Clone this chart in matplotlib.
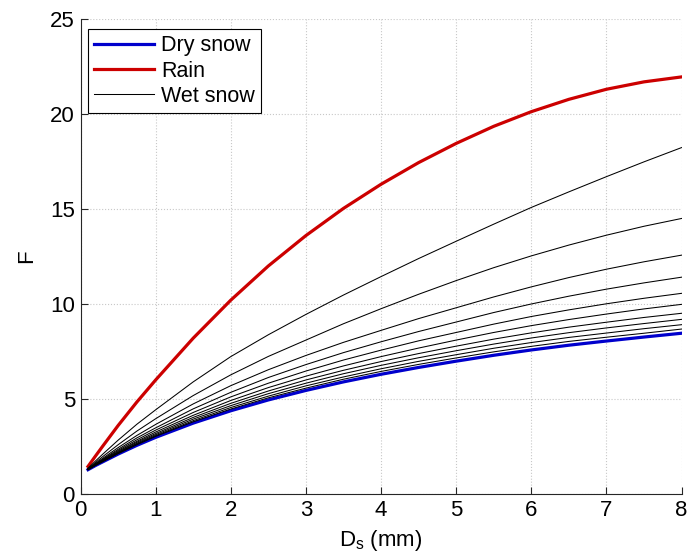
import matplotlib
matplotlib.use("Agg")
import matplotlib.pyplot as plt

plt.rcParams['font.family'] = ['Liberation Sans', 'DejaVu Sans']
plt.rcParams['mathtext.fontset'] = 'custom'
plt.rcParams['mathtext.rm'] = 'Liberation Sans'

# diameter (mm)
D_s = [0.1, 0.2, 0.3, 0.5, 0.75, 1.0, 1.5, 2.0, 2.5, 3.0, 3.5, 4.0,
       4.5, 5.0, 5.5, 6.0, 6.5, 7.0, 7.5, 8.0]

dry_snow = [1.28, 1.50, 1.70, 2.10, 2.56, 2.98, 3.73, 4.38, 4.95, 5.45, 5.90, 6.30,
            6.66, 6.99, 7.30, 7.58, 7.83, 8.05, 8.26, 8.46]
rain = [1.45, 2.00, 2.54, 3.60, 4.84, 6.00, 8.20, 10.20, 12.00, 13.60, 15.03, 16.30,
        17.44, 18.45, 19.35, 20.12, 20.77, 21.30, 21.69, 21.95]

wet_01 = [1.36, 1.74, 2.11, 2.83, 3.67, 4.43, 5.90, 7.23, 8.38, 9.45, 10.47, 11.44,
          12.39, 13.30, 14.20, 15.08, 15.90, 16.70, 17.48, 18.23]
wet_02 = [1.34, 1.66, 1.98, 2.59, 3.31, 3.96, 5.18, 6.27, 7.24, 8.10, 8.96, 9.75,
          10.51, 11.23, 11.91, 12.53, 13.10, 13.62, 14.09, 14.50]
wet_03 = [1.32, 1.61, 1.89, 2.44, 3.08, 3.66, 4.74, 5.70, 6.54, 7.29, 7.98, 8.61,
          9.23, 9.80, 10.37, 10.90, 11.39, 11.83, 12.22, 12.57]
wet_04 = [1.31, 1.58, 1.84, 2.35, 2.95, 3.48, 4.48, 5.35, 6.13, 6.81, 7.44, 8.01,
          8.55, 9.05, 9.55, 10.00, 10.41, 10.78, 11.11, 11.41]
wet_05 = [1.30, 1.56, 1.81, 2.29, 2.85, 3.36, 4.29, 5.11, 5.83, 6.47, 7.05, 7.57,
          8.06, 8.50, 8.94, 9.34, 9.69, 10.01, 10.30, 10.56]
wet_06 = [1.30, 1.55, 1.78, 2.24, 2.77, 3.26, 4.14, 4.92, 5.60, 6.20, 6.74, 7.23,
          7.68, 8.10, 8.50, 8.86, 9.18, 9.47, 9.74, 9.98]
wet_07 = [1.29, 1.53, 1.76, 2.20, 2.72, 3.18, 4.03, 4.77, 5.42, 6.00, 6.51, 6.97,
          7.39, 7.78, 8.15, 8.48, 8.78, 9.04, 9.29, 9.51]
wet_08 = [1.29, 1.52, 1.74, 2.17, 2.67, 3.12, 3.94, 4.65, 5.28, 5.83, 6.33, 6.77,
          7.17, 7.54, 7.89, 8.21, 8.49, 8.74, 8.97, 9.19]
wet_09 = [1.28, 1.51, 1.72, 2.14, 2.63, 3.07, 3.86, 4.55, 5.15, 5.69, 6.16, 6.59,
          6.98, 7.33, 7.67, 7.97, 8.24, 8.47, 8.70, 8.91]
wet_10 = [1.28, 1.51, 1.71, 2.12, 2.59, 3.03, 3.80, 4.47, 5.06, 5.57, 6.04, 6.45,
          6.82, 7.16, 7.48, 7.77, 8.03, 8.25, 8.46, 8.68]
wet_snow_curves = [wet_01, wet_02, wet_03, wet_04, wet_05,
                   wet_06, wet_07, wet_08, wet_09, wet_10]

x_ticks = [0, 1, 2, 3, 4, 5, 6, 7, 8]
y_ticks = [0, 5, 10, 15, 20, 25]

fig = plt.figure(figsize=(7.0, 5.53), dpi=100)
ax = fig.add_axes([0.115, 0.1067, 0.8586, 0.859])

h_dry, = ax.plot(D_s, dry_snow, color='#0000cc', lw=2.3, label='Dry snow', zorder=3)
h_rain, = ax.plot(D_s, rain, color='#cc0000', lw=2.3, label='Rain', zorder=3)
h_wet = None
for w in wet_snow_curves:
    h, = ax.plot(D_s, w, color='black', lw=0.75, zorder=4)
    if h_wet is None:
        h_wet = h
        h_wet.set_label('Wet snow')

ax.set_xlim(0, 8)
ax.set_ylim(0, 25)
ax.set_xticks(x_ticks)
ax.set_yticks(y_ticks)
ax.grid(True, color='#c8c8c8', linestyle=':', linewidth=0.8)
ax.set_axisbelow(True)
for s in ['top', 'right']:
    ax.spines[s].set_visible(False)
for s in ['left', 'bottom']:
    ax.spines[s].set_color('#262626')
    ax.spines[s].set_linewidth(0.8)
ax.tick_params(direction='in', length=5, width=0.8, colors='#262626',
               labelsize=16, labelcolor='black', pad=4)

ax.set_xlabel('D$_\\mathregular{s}$ (mm)', fontsize=16, labelpad=5.5)
ax.set_ylabel('F', fontsize=16, labelpad=9)

leg = ax.legend(handles=[h_dry, h_rain, h_wet], loc='upper left',
                bbox_to_anchor=(0.0125, 0.979), fontsize=15.5, frameon=True,
                fancybox=False, edgecolor='black', framealpha=1,
                handlelength=2.75, handletextpad=0.33, labelspacing=0.2,
                borderpad=0.3, borderaxespad=0)
leg.get_frame().set_linewidth(0.8)

fig.savefig('out.png', dpi=100)
